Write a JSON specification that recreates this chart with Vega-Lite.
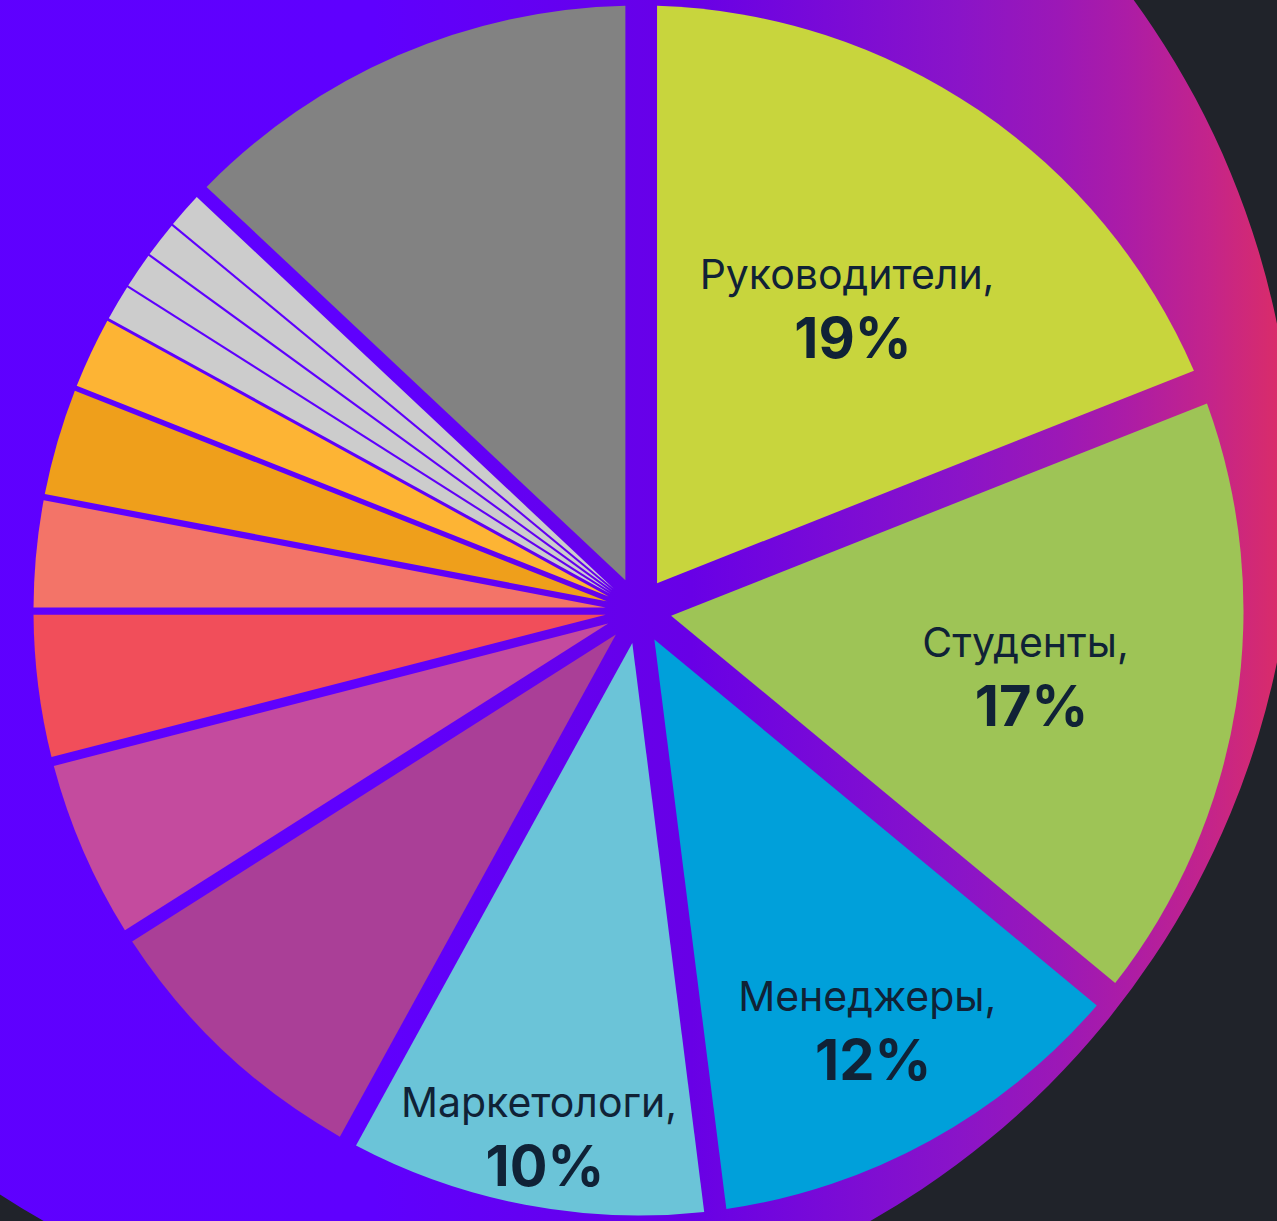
{
  "$schema": "https://vega.github.io/schema/vega-lite/v6.json",
  "width": 1277,
  "height": 1221,
  "autosize": "none",
  "padding": 0,
  "background": "#20232A",
  "view": {"stroke": null},
  "datasets": {
    "shares": [
      {"category": "Руководители", "share": 0.19},
      {"category": "Студенты", "share": 0.17},
      {"category": "Менеджеры", "share": 0.12},
      {"category": "Маркетологи", "share": 0.10},
      {"category": "Категория 5", "share": 0.08},
      {"category": "Категория 6", "share": 0.05},
      {"category": "Категория 7", "share": 0.04},
      {"category": "Категория 8", "share": 0.03},
      {"category": "Категория 9", "share": 0.03},
      {"category": "Категория 10", "share": 0.02},
      {"category": "Категория 11", "share": 0.01},
      {"category": "Категория 12", "share": 0.01},
      {"category": "Категория 13", "share": 0.01},
      {"category": "Категория 14", "share": 0.01},
      {"category": "Другое", "share": 0.13}
    ]
  },
  "layer": [
    {
      "data": {"values": [{"shape": "background"}]},
      "mark": {
        "type": "arc",
        "theta": 0,
        "theta2": 6.2832,
        "radius": 837,
        "xOffset": -181.5,
        "yOffset": -117.5,
        "fill": {
          "gradient": "linear",
          "x1": 0, "y1": 0, "x2": 1, "y2": 0,
          "stops": [
            {"offset": 0, "color": "#5E00FF"},
            {"offset": 0.45, "color": "#5F00FE"},
            {"offset": 0.64, "color": "#6800E6"},
            {"offset": 0.8, "color": "#8A14C8"},
            {"offset": 0.86, "color": "#9C18B6"},
            {"offset": 0.9, "color": "#AC1CA6"},
            {"offset": 0.95, "color": "#C4248A"},
            {"offset": 1, "color": "#DE2E62"}
          ]
        }
      },
      "encoding": {}
    },
    {
      "data": {"name": "shares"},
      "transform": [{"window": [{"op": "row_number", "as": "idx"}]}],
      "mark": {
        "type": "arc",
        "radius": 605,
        "radius2": 33,
        "padAngle": {"expr": "2*asin(33*sin(PI*datum.share)/605.9)"}
      },
      "encoding": {
        "theta": {"field": "share", "type": "quantitative", "stack": true},
        "order": {"field": "idx", "type": "quantitative"},
        "color": {
          "field": "category",
          "type": "nominal",
          "legend": null,
          "scale": {
            "domain": ["Руководители", "Студенты", "Менеджеры", "Маркетологи", "Категория 5", "Категория 6", "Категория 7", "Категория 8", "Категория 9", "Категория 10", "Категория 11", "Категория 12", "Категория 13", "Категория 14", "Другое"],
            "range": ["#C8D53D", "#9EC456", "#00A0DA", "#6BC4D8", "#AA3F97", "#C44B9E", "#F14E5A", "#F37468", "#EF9F1B", "#FDB434", "#CCCCCC", "#CCCCCC", "#CCCCCC", "#CCCCCC", "#828282"]
          }
        }
      }
    },
    {
      "data": {"name": "shares"},
      "transform": [
        {"window": [{"op": "row_number", "as": "idx"}]},
        {"calculate": "datum.category + ','", "as": "name_label"}
      ],
      "mark": {"type": "text", "font": "Inter", "fontSize": 41, "fontWeight": 400, "color": "#102236", "dy": -27, "align": "center", "baseline": "middle"},
      "encoding": {
        "theta": {"field": "share", "type": "quantitative", "stack": true},
        "order": {"field": "idx", "type": "quantitative"},
        "radius": {"field": "share", "type": "quantitative", "scale": {"type": "pow", "exponent": -1, "domain": [0.10, 0.19], "range": [531, 371], "zero": false}},
        "text": {"condition": {"test": "indexof(['Руководители','Студенты','Менеджеры','Маркетологи'], datum.category) >= 0", "field": "name_label"}, "value": ""}
      }
    },
    {
      "data": {"name": "shares"},
      "transform": [{"window": [{"op": "row_number", "as": "idx"}]}],
      "mark": {"type": "text", "font": "Inter", "fontSize": 56, "fontWeight": 700, "color": "#102236", "dy": 37, "dx": 6, "align": "center", "baseline": "middle"},
      "encoding": {
        "theta": {"field": "share", "type": "quantitative", "stack": true},
        "order": {"field": "idx", "type": "quantitative"},
        "radius": {"field": "share", "type": "quantitative", "scale": {"type": "pow", "exponent": -1, "domain": [0.10, 0.19], "range": [531, 371], "zero": false}},
        "text": {"condition": {"test": "indexof(['Руководители','Студенты','Менеджеры','Маркетологи'], datum.category) >= 0", "field": "share", "format": ".0%"}, "value": ""}
      }
    }
  ]
}
